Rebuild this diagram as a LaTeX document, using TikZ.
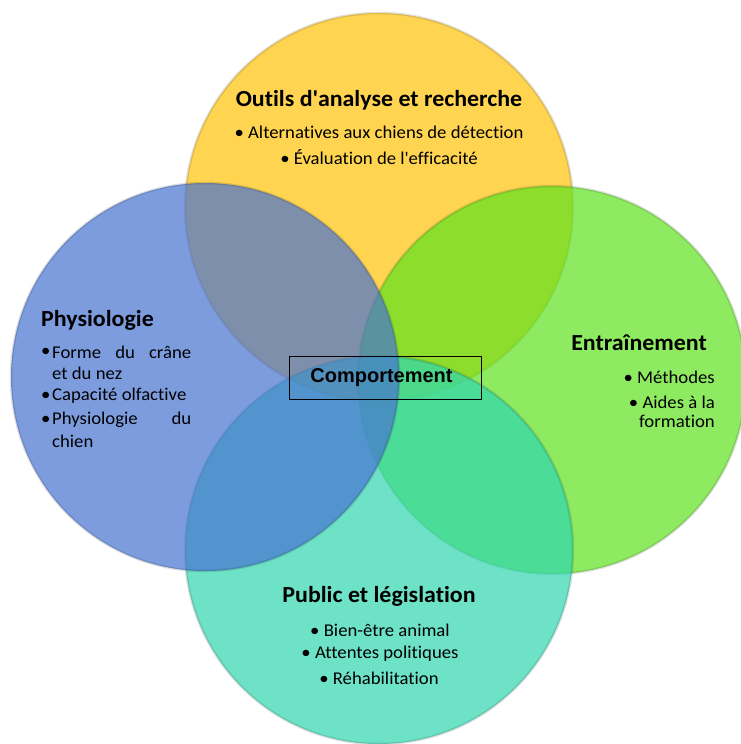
\documentclass[tikz,border=0pt]{standalone}
\usepackage{fontspec}
\defaultfontfeatures{}
\setmainfont{Carlito}[Ligatures=NoCommon, FakeStretch=1.04]
\newfontfamily\arialfont{Liberation Sans}
\newcommand\apos{{\XeTeXglyph\XeTeXcharglyph"0027\relax}}
\definecolor{cyellow}{RGB}{254,194,8}
\definecolor{cgreen}{RGB}{94,226,31}
\definecolor{cteal}{RGB}{48,215,176}
\definecolor{cblue}{RGB}{71,115,208}
\tikzset{
  venn/.style={circle, inner sep=0pt, minimum size=388pt, fill opacity=0.7,
    draw=black, draw opacity=0.12, line width=2.5pt},
  ttl/.style={inner sep=0pt, font=\bfseries\fontsize{23}{27}\selectfont},
  itm/.style={inner sep=0pt, font=\fontsize{18}{21}\selectfont},
  centerbox/.style={draw=black, line width=0.9pt, minimum width=192pt, minimum height=43pt,
    inner sep=0pt, font=\arialfont\bfseries\fontsize{20}{24}\selectfont}
}
\begin{document}
\begin{tikzpicture}[x=1pt,y=-1pt]
\useasboundingbox (0,0) rectangle (740,744);
\fill[white] (0,0) rectangle (740,744);
% circles
\node[venn, fill=cyellow] (top) at (379,207) {};
\node[venn, fill=cgreen] (right) at (552,380) {};
\node[venn, fill=cteal] (bottom) at (379,550) {};
\node[venn, fill=cblue] (left) at (205,377) {};
% top texts
\node[ttl] (ttop) at (379,100) {Outils d\apos analyse et recherche};
\node[itm] (t1) at (379,132) {• Alternatives aux chiens de détection};
\node[itm] (t2) at (379,157) {• Évaluation de l\apos efficacité};
% left texts
\node[ttl, anchor=west] (tleft) at (41,320) {Physiologie};
\node[itm, anchor=west] (l1b) at (41,352) {•};
\node[itm, anchor=west] (l1) at (52,352) {\makebox[139pt][s]{Forme du crâne}};
\node[itm, anchor=west] (l1c) at (52,373) {et du nez};
\node[itm, anchor=west] (l2b) at (41,396) {•};
\node[itm, anchor=west] (l2) at (52,396) {Capacité olfactive};
\node[itm, anchor=west] (l3b) at (41,420) {•};
\node[itm, anchor=west] (l3) at (52,420) {\makebox[139pt][s]{Physiologie du}};
\node[itm, anchor=west] (l3c) at (52,441) {chien};
% right texts
\node[ttl, anchor=east] (tright) at (707,343) {Entraînement};
\node[itm, anchor=east] (r1) at (715,377) {• Méthodes};
\node[itm, anchor=east] (r2) at (715,402) {• Aides à la};
\node[itm, anchor=east] (r2c) at (715,421) {formation};
% bottom texts
\node[ttl] (tbottom) at (379,596) {Public et législation};
\node[itm] (b1) at (380,630) {• Bien-être animal};
\node[itm] (b2) at (380,654) {• Attentes politiques};
\node[itm] (b3) at (379,678) {• Réhabilitation};
% center
\node[centerbox] (center) at (385.5,377.5) {Comportement\hspace*{8pt}};
\end{tikzpicture}
\end{document}
